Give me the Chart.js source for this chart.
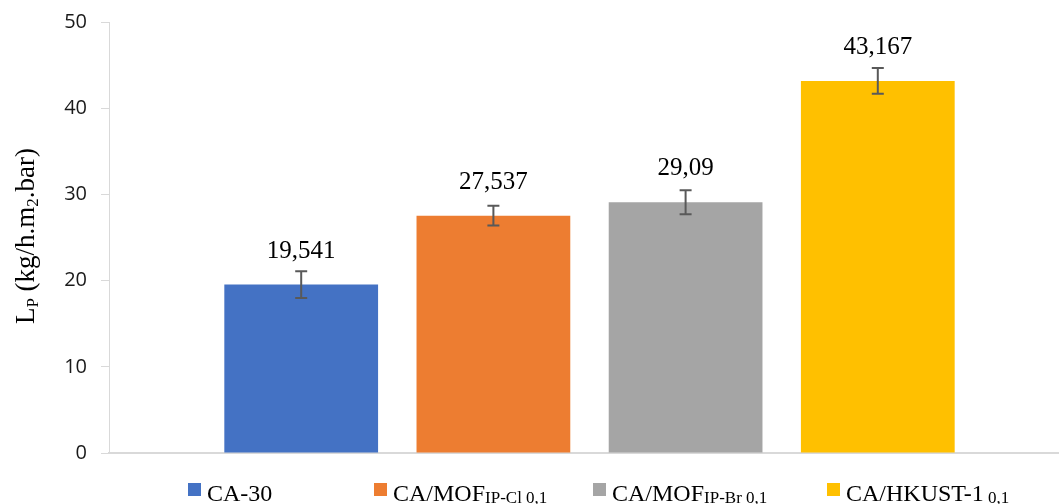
<!DOCTYPE html>
<html>
<head>
<meta charset="utf-8">
<script src="https://cdn.jsdelivr.net/npm/chart.js@4/dist/chart.umd.min.js"></script>
<style>
  html, body { margin: 0; padding: 0; background: #fff; overflow: hidden; }
  #wrap { width: 1070px; height: 504px; }
</style>
</head>
<body>
<div id="wrap"><canvas id="c" width="1070" height="504"></canvas></div>
<script>
// Membrane permeance, one group of four samples
const categories = [''];
const seriesNames = ['CA-30', 'CA/MOF', 'CA/MOF', 'CA/HKUST-1'];
const seriesSubs = ['', 'IP-Cl 0,1', 'IP-Br 0,1', ' 0,1'];
const seriesValues = [19.541, 27.537, 29.09, 43.167];
const seriesErrors = [1.55, 1.15, 1.4, 1.5];
const seriesColors = ['#4472C4', '#ED7D31', '#A5A5A5', '#FFC000'];
const yMin = 0, yMax = 50, yStep = 10;
const axisTitleParts = [['L', false], ['P', true], [' (kg/h.m', false], ['2', true], ['.bar)', false]];

const SERIF = '"Liberation Serif", "DejaVu Serif", serif';
const SANS = '"Open Sans", "Noto Sans", sans-serif';

function fmt(v) { return String(v).replace('.', ','); }

// Error bars and value labels drawn above each bar
const barExtras = {
  id: 'barExtras',
  afterDatasetsDraw(chart) {
    const ctx = chart.ctx;
    const ys = chart.scales.y;
    chart.data.datasets.forEach((ds, i) => {
      const el = chart.getDatasetMeta(i).data[0];
      if (!el) return;
      const v = ds.data[0], e = seriesErrors[i];
      const top = ys.getPixelForValue(v + e);
      const bot = ys.getPixelForValue(v - e);
      ctx.save();
      ctx.strokeStyle = '#595959';
      ctx.lineWidth = 2;
      ctx.beginPath();
      ctx.moveTo(el.x, top); ctx.lineTo(el.x, bot);
      ctx.moveTo(el.x - 6, top); ctx.lineTo(el.x + 6, top);
      ctx.moveTo(el.x - 6, bot); ctx.lineTo(el.x + 6, bot);
      ctx.stroke();
      ctx.fillStyle = '#000';
      ctx.font = '25px ' + SERIF;
      ctx.textAlign = 'center';
      ctx.textBaseline = 'alphabetic';
      ctx.fillText(fmt(v), el.x, el.y - 27);
      ctx.restore();
    });
  }
};

// Y axis title with subscripts
const axisTitle = {
  id: 'axisTitle',
  afterDraw(chart) {
    const ctx = chart.ctx;
    const big = '27px ' + SERIF, small = '17px ' + SERIF;
    ctx.save();
    let total = 0;
    axisTitleParts.forEach(([t, sub]) => { ctx.font = sub ? small : big; total += ctx.measureText(t).width; });
    ctx.translate(34, 236);
    ctx.rotate(-Math.PI / 2);
    ctx.fillStyle = '#000';
    ctx.textBaseline = 'alphabetic';
    ctx.textAlign = 'left';
    let x = -total / 2;
    axisTitleParts.forEach(([t, sub]) => {
      ctx.font = sub ? small : big;
      ctx.fillText(t, x, sub ? 4 : 0);
      x += ctx.measureText(t).width;
    });
    ctx.restore();
  }
};

// Legend row along the bottom
const legendX = [188, 374, 593, 827];
const bottomLegend = {
  id: 'bottomLegend',
  afterDraw(chart) {
    const ctx = chart.ctx;
    ctx.save();
    chart.data.datasets.forEach((ds, i) => {
      const x0 = legendX[i];
      ctx.fillStyle = ds.backgroundColor;
      ctx.fillRect(x0, 483, 13, 13);
      ctx.fillStyle = '#000';
      ctx.textBaseline = 'alphabetic';
      ctx.textAlign = 'left';
      ctx.font = '24px ' + SERIF;
      const tx = x0 + 19;
      ctx.fillText(seriesNames[i], tx, 501);
      const w = ctx.measureText(seriesNames[i]).width;
      if (seriesSubs[i]) {
        ctx.font = '17px ' + SERIF;
        ctx.fillText(seriesSubs[i], tx + w, 503);
      }
    });
    ctx.restore();
  }
};

new Chart(document.getElementById('c'), {
  type: 'bar',
  data: {
    labels: categories,
    datasets: seriesNames.map((n, i) => ({
      label: n + seriesSubs[i],
      data: [seriesValues[i]],
      backgroundColor: seriesColors[i],
      borderWidth: 0,
      categoryPercentage: 0.8,
      barPercentage: 0.8
    }))
  },
  options: {
    responsive: false,
    animation: false,
    devicePixelRatio: 1,
    layout: { padding: { top: 22, left: 0, right: 0, bottom: 0 } },
    plugins: {
      legend: { display: false },
      tooltip: { enabled: false },
      title: { display: false }
    },
    scales: {
      x: {
        grid: { display: false },
        ticks: { display: false },
        border: { color: '#d9d9d9', width: 2 },
        afterFit(scale) { scale.height = 51; }
      },
      y: {
        min: yMin, max: yMax,
        ticks: {
          stepSize: yStep,
          padding: 14,
          color: '#1a1a1a',
          font: { family: SANS, size: 20 }
        },
        grid: { drawOnChartArea: false, color: '#d9d9d9', tickLength: 8 },
        border: { color: '#d9d9d9', width: 1 },
        afterFit(scale) {
          scale.width = 109;
          scale.paddingTop = 0;
          scale.paddingBottom = 0;
        }
      }
    }
  },
  plugins: [barExtras, axisTitle, bottomLegend]
});
</script>
</body>
</html>
